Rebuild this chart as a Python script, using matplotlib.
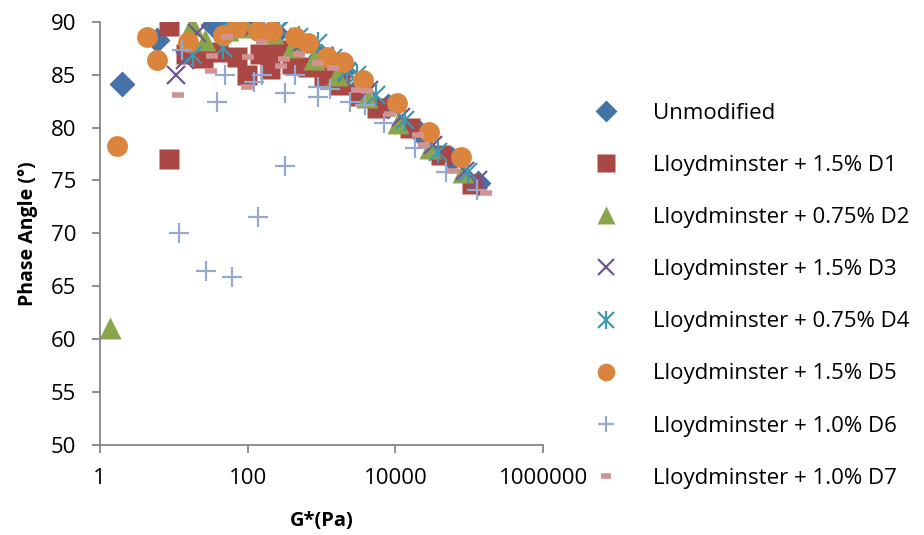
import numpy as np
import matplotlib
matplotlib.use("Agg")
import matplotlib.pyplot as plt
from matplotlib.legend_handler import HandlerTuple

plt.rcParams["font.family"] = ["Open Sans", "DejaVu Sans"]

# log10(G*) and phase angle
unmod_lx = [0.30, 0.77, 1.53, 1.82, 2.08, 2.38, 2.69, 2.99, 3.29, 3.55, 3.90, 4.33, 4.77, 5.11]
unmod_y = [84.1, 88.3, 89.7, 89.8, 89.5, 89.0, 88.0, 86.8, 85.4, 84.0, 82.0, 79.5, 77.0, 74.8]

d1_lx = [0.93, 0.93, 1.17, 1.39, 1.60, 1.85, 1.99, 2.17, 2.30, 2.43, 2.60, 2.82, 3.03,
         3.25, 3.51, 3.75, 4.20, 4.61, 5.04]
d1_y = [77.0, 89.6, 87.0, 86.6, 87.2, 86.7, 85.0, 87.0, 85.5, 87.3, 86.0, 85.7, 84.8,
        84.0, 83.0, 81.9, 80.0, 77.4, 74.7]

d2_lx = [0.14, 1.25, 1.42, 1.73, 1.99, 2.34, 2.60, 2.90, 3.21, 3.61, 4.04, 4.47, 4.91]
d2_y = [61.0, 89.7, 88.3, 89.2, 89.5, 89.0, 87.6, 86.5, 85.0, 82.9, 80.4, 78.1, 75.8]

d3_lx = [1.03, 1.15, 1.32, 1.73, 2.08, 2.43, 2.73, 3.03, 3.34, 3.64, 4.07, 4.51, 4.94, 5.11]
d3_y = [85.0, 86.4, 89.0, 89.9, 89.6, 89.2, 88.0, 86.8, 85.3, 83.6, 81.0, 78.4, 75.9, 75.0]

d4_lx = [1.26, 1.67, 1.72, 1.86, 2.21, 2.43, 2.69, 2.95, 3.16, 3.34, 3.48, 3.73, 4.13,
         4.57, 4.98]
d4_y = [86.9, 87.5, 89.9, 89.9, 89.9, 89.3, 88.6, 88.0, 86.6, 85.4, 85.0, 83.1, 80.7,
        77.7, 75.8]

d5_lx = [0.23, 0.64, 0.77, 1.19, 1.67, 1.85, 2.14, 2.33, 2.64, 2.82, 3.08, 3.29, 3.56,
         4.02, 4.45, 4.88]
d5_y = [78.3, 88.6, 86.4, 88.1, 88.8, 89.5, 89.1, 89.1, 88.6, 88.0, 86.7, 86.2, 84.5,
        82.3, 79.6, 77.2]

d6_lx = [1.07, 1.11, 1.44, 1.58, 1.70, 1.79, 2.08, 2.14, 2.19, 2.50, 2.51, 2.64, 2.95,
         2.95, 3.12, 3.38, 3.59, 3.84, 4.27, 4.68, 5.10]
d6_y = [70.0, 87.3, 66.4, 82.4, 85.0, 65.9, 84.3, 71.5, 85.0, 83.3, 76.4, 85.0, 83.8,
        82.9, 83.7, 82.4, 82.1, 80.4, 78.1, 75.8, 74.1]

d7_lx = [1.06, 1.51, 1.52, 1.72, 1.99, 2.01, 2.20, 2.45, 2.49, 2.69, 2.95, 3.16, 3.48,
         3.61, 3.93, 4.30, 4.38, 4.78, 5.22]
d7_y = [83.1, 85.4, 86.8, 88.6, 83.8, 86.7, 88.1, 85.8, 86.5, 87.0, 86.1, 85.6, 83.6,
        83.5, 81.3, 79.3, 78.4, 75.9, 73.8]

labels = ["Unmodified", "Lloydminster + 1.5% D1", "Lloydminster + 0.75% D2",
          "Lloydminster + 1.5% D3", "Lloydminster + 0.75% D4", "Lloydminster + 1.5% D5",
          "Lloydminster + 1.0% D6", "Lloydminster + 1.0% D7"]

series = [(unmod_lx, unmod_y), (d1_lx, d1_y), (d2_lx, d2_y), (d3_lx, d3_y),
          (d4_lx, d4_y), (d5_lx, d5_y), (d6_lx, d6_y), (d7_lx, d7_y)]

# marker, size, colour, line width
styles = [
    ("D", 13, "#4572A7", 0),
    ("s", 15, "#AA4643", 0),
    ("^", 16, "#89A54E", 0),
    ("x", 13, "#71588F", 1.6),
    ("*", 13, "#4198AF", 1.6),
    ("o", 15, "#DB843D", 0),
    ("+", 14, "#93A9CF", 1.6),
    ("_", 9, "#D19392", 4),
]

fig = plt.figure(figsize=(9.24, 5.35), dpi=100)
ax = fig.add_axes([0.108, 0.169, 0.480, 0.790])

handles = []
for (lx, y), (m, ms, c, lw), lab in zip(series, styles, labels):
    x = 10 ** np.array(lx)
    if m == "*":
        # asterisk: an x with a vertical bar through it
        h1, = ax.plot(x, y, ls="none", marker="x", ms=ms, mew=lw, color=c)
        h2, = ax.plot(x, y, ls="none", marker="|", ms=ms * 1.2, mew=lw, color=c)
        handles.append((h1, h2))
    elif m in ("x", "+", "_"):
        h, = ax.plot(x, y, ls="none", marker=m, ms=ms, mew=lw, color=c)
        handles.append(h)
    else:
        h, = ax.plot(x, y, ls="none", marker=m, ms=ms, mec="none", color=c)
        handles.append(h)

ax.set_xscale("log")
ax.set_xlim(1, 1e6)
ax.set_ylim(50, 90)
ax.set_xticks([1, 100, 10000, 1000000])
ax.set_xticklabels(["1", "100", "10000", "1000000"])
ax.xaxis.set_minor_locator(matplotlib.ticker.NullLocator())
ax.set_yticks(np.arange(50, 91, 5))

for s in ["top", "right"]:
    ax.spines[s].set_visible(False)
for s in ["left", "bottom"]:
    ax.spines[s].set_color("#868686")
    ax.spines[s].set_linewidth(1.3)
ax.tick_params(axis="both", colors="#868686", labelcolor="black", labelsize=16,
               length=6, width=1.3)
ax.tick_params(axis="x", pad=11)
ax.tick_params(axis="y", pad=11)

ax.set_xlabel("G*(Pa)", fontsize=14.5, fontweight="bold", labelpad=16)
ax.set_ylabel("Phase Angle (°)", fontsize=14, fontweight="bold", labelpad=9)

fig.legend(handles, labels, loc="upper left", bbox_to_anchor=(0.622, 0.845),
           frameon=False, fontsize=16, labelspacing=1.4, handlelength=1.0,
           handletextpad=1.6, markerscale=0.85,
           handler_map={tuple: HandlerTuple(ndivide=1, pad=0)})

fig.savefig("out.png", dpi=100)
